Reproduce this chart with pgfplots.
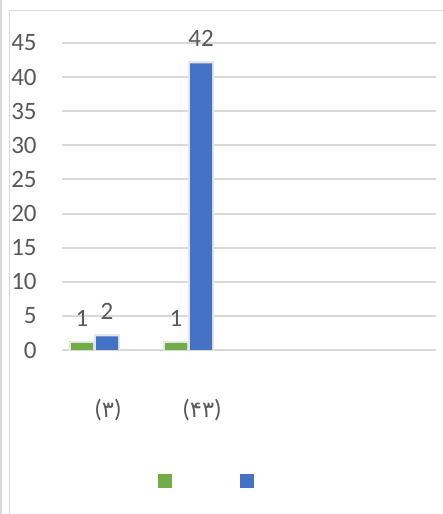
\documentclass[border=0pt]{standalone}
\usepackage{pgfplots}
\pgfplotsset{compat=1.18}
\usepackage{fontspec}
\setmainfont{Carlito}
\newfontfamily\digitfont{DejaVu Sans}
\definecolor{tickgray}{HTML}{595959}
\definecolor{gridgray}{HTML}{D9D9D9}
\definecolor{bargreen}{HTML}{70AD47}
\definecolor{barblue}{HTML}{4472C4}
\newcommand{\catA}{(\scalebox{0.9}{\digitfont ۳})}
\newcommand{\catB}{(\scalebox{0.9}{\digitfont ۴۳})}
\pgfplotstableread{
x green blue
0 1 2
1 1 42
}\datatable
\begin{document}
\begin{tikzpicture}
\useasboundingbox (0,0) rectangle (221.5pt,257pt);
\fill[white] (0,0) rectangle (221.5pt,257pt);
\draw[gridgray, line width=0.8pt] (0.5pt,0) -- (0.5pt,257pt);
\draw[gridgray, line width=0.8pt] (4.75pt,0) -- (4.75pt,251.75pt) -- (221.5pt,251.75pt);
\begin{axis}[
  at={(31pt,82pt)}, anchor=south west,
  width=187pt, height=153.5pt, scale only axis,
  xmin=-0.346, xmax=3.633, ymin=0, ymax=45,
  ytick={0,5,...,45},
  xtick={0,1},
  xticklabels={\catA,\catB},
  axis line style={draw=none},
  major tick length=0pt,
  ymajorgrids,
  grid style={gridgray, line width=1pt},
  /pgf/number format/assume math mode=true,
  tick label style={font=\fontsize{12.5}{14}\selectfont, color=tickgray},
  yticklabel style={anchor=east, inner sep=0pt, xshift=-12.5pt},
  xticklabel style={anchor=center, inner sep=0pt, yshift=-30pt, xshift=6.75pt},
  ybar, bar width=11pt,
  legend image code/.code={\fill[#1] (0pt,-3.5pt) rectangle (7pt,3.5pt);},
  legend style={at={(0.2567,-0.4267)}, anchor=west, draw=none, fill=none, inner sep=0pt,
    legend columns=2,
    /tikz/every even column/.append style={column sep=30pt}},
]
% soft shadow outlines
\addplot[fill=none, draw=black!10, line width=2.4pt, bar shift=-6.25pt, forget plot] table[x=x,y=green]{\datatable};
\addplot[fill=none, draw=black!10, line width=2.4pt, bar shift=6.25pt, forget plot] table[x=x,y=blue]{\datatable};
\addplot[fill=bargreen, draw=none, bar shift=-6.25pt,
  nodes near coords,
  every node near coord/.append style={font=\fontsize{12.5}{14}\selectfont, color=tickgray, yshift=5pt}]
  table[x=x,y=green]{\datatable};
\addlegendentry{\mbox{}}
\addplot[fill=barblue, draw=none, bar shift=6.25pt,
  nodes near coords,
  every node near coord/.append style={font=\fontsize{12.5}{14}\selectfont, color=tickgray, yshift=5pt}]
  table[x=x,y=blue]{\datatable};
\addlegendentry{\mbox{}}
\end{axis}
\end{tikzpicture}
\end{document}
